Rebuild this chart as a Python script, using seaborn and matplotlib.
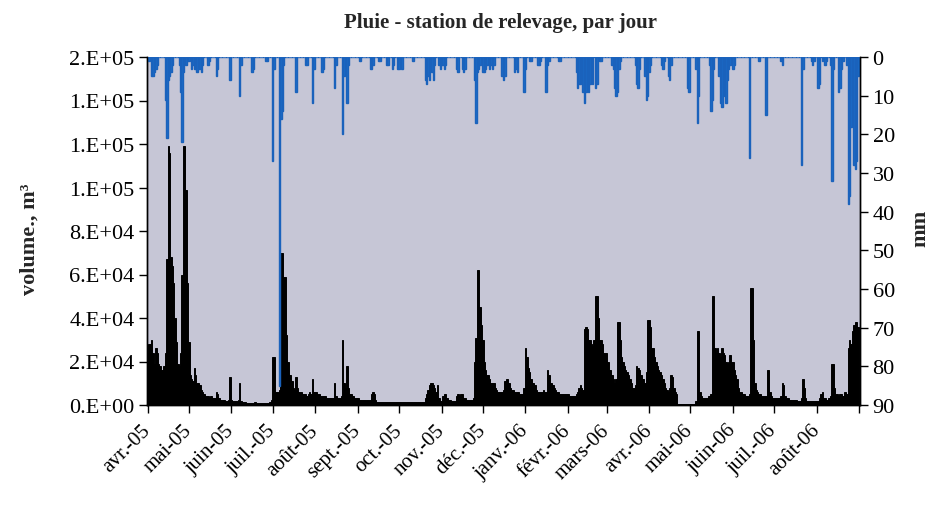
import numpy as np
import pandas as pd
import matplotlib
matplotlib.use("Agg")
import matplotlib.pyplot as plt
import seaborn as sns

# -----------------------------
# DATA
# daily volume, in 1000 m3, one list per month
# -----------------------------
vol_2005_04 = [24, 28, 28, 30, 24, 19, 26, 24, 19, 18, 16, 16, 18, 24, 67, 119, 116, 68, 64, 56,
               40, 29, 19, 18, 24, 60, 119, 119, 99, 56]
vol_2005_05 = [29, 14, 12, 11, 17, 14, 10, 10, 9, 7, 6, 5, 4, 4, 4, 3, 4, 3, 3, 3,
               6, 5, 3, 2.5, 2.5, 2.5, 2.5, 2, 2, 2.5, 13]
vol_2005_06 = [2.5, 2, 2, 2, 2, 2.5, 10, 2, 1.5, 1.2, 1.2, 1, 1, 1, 1, 1, 1, 1.2, 1, 1,
               1, 1, 1, 1, 1, 1, 1, 1, 1.5, 2.5]
vol_2005_07 = [22, 22, 6, 6, 6, 7, 70, 70, 59, 59, 32, 20, 14, 14, 11, 8, 7, 13, 8, 6,
               6, 6, 5, 5, 5, 4, 5, 6, 5, 12, 6]
vol_2005_08 = [6, 6, 5, 5, 4, 4, 4, 4, 3, 3, 3, 3, 3, 3, 10, 4, 3, 3, 3, 4,
               30, 10, 8, 18, 8, 5, 5, 4, 4, 3, 3]
vol_2005_09 = [3, 2.5, 2.5, 2.5, 2.5, 2.5, 2.5, 2.5, 2.5, 2.5, 5, 6, 5, 2.5, 1.5, 1.5, 1.5, 1.5, 1.5, 1.5,
               1.5, 1.5, 1.2, 1.2, 1.2, 1.5, 1.2, 1.2, 1.5, 1.5]
vol_2005_10 = [1.2, 1.2, 1.5, 1.2, 1.2, 1.2, 1.2, 1.2, 1.5, 1.2, 1.2, 1.2, 1.2, 1.2, 1.2, 1.2, 1.2, 1.5, 1.5, 3,
               5, 7, 9, 10, 10, 9, 8, 6, 9, 3, 2]
vol_2005_11 = [2, 4, 5, 5, 3, 2.5, 2.5, 2, 2, 2, 2, 4, 5, 4, 5, 5, 3, 3, 2.5, 2.5,
               2.5, 2.5, 2.5, 3, 20, 31, 62, 62, 45, 37]
vol_2005_12 = [30, 20, 16, 14, 14, 12, 10, 10, 10, 8, 7, 6, 6, 6, 6, 7, 11, 12, 12, 10,
               8, 7, 7, 6, 6, 6, 6, 5, 5, 5, 8]
vol_2006_01 = [26, 22, 17, 15, 12, 10, 10, 9, 7, 6, 6, 6, 6, 7, 6, 6, 16, 14, 10, 10,
               9, 8, 7, 6, 6, 5, 5, 5, 5, 5, 5]
vol_2006_02 = [5, 4, 4, 4, 4, 4, 5, 6, 8, 9, 8, 7, 35, 36, 35, 30, 30, 28, 27, 30,
               50, 50, 40, 30, 30, 28, 24, 24]
vol_2006_03 = [24, 20, 16, 16, 14, 12, 10, 12, 38, 38, 30, 22, 20, 18, 16, 15, 14, 12, 10, 8,
               8, 9, 18, 17, 16, 14, 12, 12, 10, 15, 39]
vol_2006_04 = [39, 36, 26, 26, 22, 20, 18, 16, 15, 14, 12, 10, 8, 7, 6, 8, 14, 13, 8, 6,
               5, 0.5, 0.4, 0.4, 0.3, 0.3, 0.3, 0.3, 0.3, 0.3]
vol_2006_05 = [0.3, 0.3, 0.3, 0.5, 2, 34, 34, 6, 4, 3, 3, 3, 3, 4, 4, 5, 50, 50, 26, 24,
               26, 24, 22, 26, 24, 23, 20, 19, 20, 23, 20]
vol_2006_06 = [20, 16, 14, 12, 8, 6, 6, 5, 5, 4, 4, 4, 5, 54, 54, 30, 10, 7, 6, 5,
               5, 4, 4, 4, 4, 16, 16, 6, 4, 3]
vol_2006_07 = [3, 3, 3, 3, 3, 4, 10, 9, 4, 3, 3, 2.5, 2.5, 2.5, 2.5, 2.5, 2.5, 2, 2, 2,
               3, 12, 8, 3, 2, 2, 2, 2, 2, 2, 2]
vol_2006_08 = [2, 2, 3, 5, 6, 3, 3, 2.5, 2.5, 3, 4, 19, 19, 8, 5, 5, 4, 5, 5, 4,
               6, 6, 5, 26, 30, 28, 34, 37, 38, 38, 36]

# daily rain, mm
rain_2005_04 = [0, 1, 0, 5, 5, 4, 3, 2, 0, 0, 0, 0, 0, 11, 21, 6, 5, 4, 2, 0,
                0, 0, 0, 2, 9, 22, 4, 0, 2, 1]
rain_2005_05 = [1, 0, 3, 2, 3, 3, 4, 3, 3, 4, 2, 0, 0, 0, 2, 1, 0, 0, 0, 0,
                5, 3, 0, 0, 0, 0, 0, 0, 0, 0, 6]
rain_2005_06 = [0, 0, 0, 0, 0, 0, 10, 2, 0, 0, 0, 0, 0, 0, 0, 4, 3, 0, 0, 0,
                0, 0, 0, 0, 0, 1, 1, 0, 0, 0]
rain_2005_07 = [27, 3, 0, 0, 0, 85, 16, 14, 2, 0, 0, 0, 0, 0, 0, 0, 0, 9, 0, 0,
                0, 0, 0, 0, 2, 2, 0, 0, 0, 12, 3]
rain_2005_08 = [0, 0, 0, 0, 0, 4, 3, 0, 0, 0, 0, 0, 0, 0, 8, 2, 0, 0, 0, 0,
                20, 5, 3, 12, 2, 0, 0, 0, 0, 0, 0]
rain_2005_09 = [0, 1, 1, 0, 0, 0, 0, 0, 0, 3, 3, 2, 0, 0, 0, 1, 1, 0, 0, 0,
                0, 2, 2, 0, 0, 3, 2, 0, 0, 3]
rain_2005_10 = [3, 2, 3, 0, 0, 0, 0, 0, 0, 0, 1, 0, 0, 0, 0, 0, 0, 0, 0, 6,
                7, 5, 6, 3, 4, 6, 2, 0, 0, 2, 3]
rain_2005_11 = [2, 2, 3, 2, 0, 0, 0, 0, 0, 0, 0, 3, 4, 0, 0, 3, 4, 3, 0, 0,
                0, 0, 0, 0, 6, 17, 4, 3, 2, 0]
rain_2005_12 = [4, 4, 3, 2, 0, 3, 2, 3, 2, 0, 0, 0, 0, 0, 5, 6, 5, 0, 0, 0,
                0, 0, 0, 4, 3, 4, 0, 0, 0, 0, 9]
rain_2006_01 = [3, 0, 0, 1, 1, 0, 0, 0, 0, 2, 2, 1, 0, 0, 0, 9, 2, 1, 0, 0,
                0, 0, 0, 0, 1, 1, 0, 0, 0, 0, 0]
rain_2006_02 = [0, 0, 0, 0, 0, 0, 4, 8, 7, 7, 6, 9, 12, 9, 8, 9, 7, 6, 7, 0,
                8, 7, 0, 1, 1, 0, 0, 0]
rain_2006_03 = [0, 0, 0, 0, 2, 3, 8, 10, 9, 3, 1, 0, 0, 0, 0, 0, 0, 0, 0, 0,
                0, 2, 7, 8, 3, 0, 0, 0, 5, 11, 10]
rain_2006_04 = [4, 2, 0, 0, 0, 0, 0, 0, 0, 2, 3, 1, 0, 0, 5, 6, 2, 0, 0, 0,
                0, 0, 0, 0, 0, 0, 0, 0, 8, 9]
rain_2006_05 = [0, 0, 0, 0, 3, 17, 10, 0, 0, 0, 0, 0, 0, 0, 2, 14, 11, 3, 0, 0,
                0, 5, 12, 13, 8, 10, 12, 6, 3, 2, 0]
rain_2006_06 = [3, 2, 0, 0, 0, 0, 0, 0, 0, 0, 0, 0, 26, 0, 0, 0, 0, 0, 0, 1,
                0, 0, 0, 0, 15, 0, 0, 0, 0, 0]
rain_2006_07 = [0, 0, 0, 0, 0, 1, 2, 0, 0, 0, 0, 0, 0, 0, 0, 0, 0, 0, 0, 0,
                28, 3, 0, 0, 0, 0, 0, 1, 2, 1, 0]
rain_2006_08 = [0, 8, 7, 0, 1, 0, 2, 1, 0, 0, 2, 32, 3, 0, 0, 0, 9, 8, 3, 1,
                0, 0, 2, 38, 36, 18, 10, 28, 29, 27, 5]

month_labels = ["avr.-05", "mai-05", "juin-05", "juil.-05", "août-05", "sept.-05",
                "oct.-05", "nov.-05", "déc.-05", "janv.-06", "févr.-06", "mars-06",
                "avr.-06", "mai-06", "juin-06", "juil.-06", "août-06", ""]
vol_tick_labels = ["0.E+00", "2.E+04", "4.E+04", "6.E+04", "8.E+04",
                   "1.E+05", "1.E+05", "1.E+05", "2.E+05"]
rain_tick_labels = ["0", "10", "20", "30", "40", "50", "60", "70", "80", "90"]

# -----------------------------
# BUILD TABLE
# -----------------------------
volume = np.concatenate([vol_2005_04, vol_2005_05, vol_2005_06, vol_2005_07, vol_2005_08,
                         vol_2005_09, vol_2005_10, vol_2005_11, vol_2005_12, vol_2006_01,
                         vol_2006_02, vol_2006_03, vol_2006_04, vol_2006_05, vol_2006_06,
                         vol_2006_07, vol_2006_08]) * 1000
rain = np.concatenate([rain_2005_04, rain_2005_05, rain_2005_06, rain_2005_07, rain_2005_08,
                       rain_2005_09, rain_2005_10, rain_2005_11, rain_2005_12, rain_2006_01,
                       rain_2006_02, rain_2006_03, rain_2006_04, rain_2006_05, rain_2006_06,
                       rain_2006_07, rain_2006_08])

dates = pd.date_range("2005-04-01", periods=len(volume), freq="D")
df = pd.DataFrame({"day": np.arange(len(volume)), "volume": volume, "pluie": rain})

month_starts = pd.date_range("2005-04-01", "2006-09-01", freq="MS")
tick_pos = (month_starts - dates[0]).days

# -----------------------------
# PLOT
# -----------------------------
sns.set_theme(style="ticks")
plt.rcParams["font.family"] = ["Liberation Serif", "DejaVu Serif"]

fig = plt.figure(figsize=(9.3, 5.1), dpi=100)
ax = fig.add_axes([147 / 930, 104 / 510, 713 / 930, 348 / 510])
ax.set_facecolor("#c6c6d6")

# volume bars (left axis)
sns.barplot(data=df, x="day", y="volume", native_scale=True, width=1,
            color="black", saturation=1, errorbar=None,
            edgecolor="black", linewidth=0.7, ax=ax)

# rain bars hanging from the top (right axis, inverted)
ax2 = ax.twinx()
sns.barplot(data=df, x="day", y="pluie", native_scale=True, width=1,
            color="#1a6cc8", saturation=1, errorbar=None,
            edgecolor="#1a62bc", linewidth=1.0, ax=ax2)

ax.set_xlim(-0.5, len(df) + 0.5)
ax.set_ylim(0, 160000)
ax2.set_ylim(90, 0)

ax.set_yticks(np.arange(0, 160001, 20000))
ax.set_yticklabels(vol_tick_labels)
ax2.set_yticks(np.arange(0, 91, 10))
ax2.set_yticklabels(rain_tick_labels)
ax.set_xticks(tick_pos)
ax.set_xticklabels(month_labels, rotation=45, ha="right", va="center",
                   rotation_mode="anchor", fontsize=15)

ax.tick_params(axis="y", direction="out", length=6, width=1, labelsize=16, pad=3, colors="black")
ax.tick_params(axis="x", direction="out", length=6, width=1, pad=10, colors="black")
ax2.tick_params(axis="y", direction="out", length=6, width=1, labelsize=16, pad=3, colors="black")

for a in (ax, ax2):
    a.spines["top"].set_visible(False)
    for side in ("left", "right", "bottom"):
        a.spines[side].set_color("black")
        a.spines[side].set_linewidth(1)
    a.grid(False)

ax.set_xlabel("")
ax.set_ylabel("volume., m³", fontsize=16, fontweight="bold")
ax.yaxis.set_label_coords(-0.150, 0.48)
ax2.set_ylabel("mm", fontsize=16, fontweight="bold")
ax2.yaxis.set_label_coords(1.071, 0.51)

fig.text(0.538, 0.955, "Pluie - station de relevage, par jour",
         ha="center", va="center", fontsize=15, fontweight="bold")

fig.savefig("out.png", dpi=100, facecolor="white")
